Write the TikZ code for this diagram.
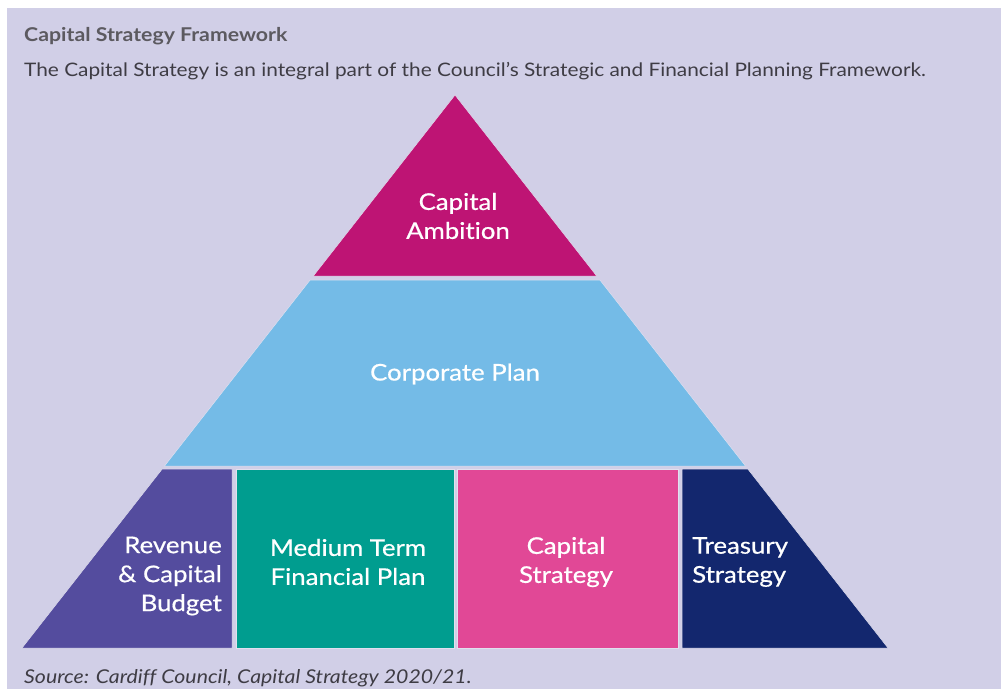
\documentclass[tikz,border=0pt]{standalone}
\usepackage{fontspec}
\setmainfont{Lato}[FakeStretch=1.12, Ligatures=NoCommon]
\newfontfamily\tierfont{Lato}[FakeStretch=1.12, FakeBold=0.6, Ligatures=NoCommon]
\definecolor{panel}{HTML}{D1CFE7}
\definecolor{ambition}{HTML}{BE1474}
\definecolor{corporate}{HTML}{74BBE7}
\definecolor{revenue}{HTML}{544C9E}
\definecolor{mtfp}{HTML}{009D8F}
\definecolor{capstrat}{HTML}{E14896}
\definecolor{treasury}{HTML}{13276E}
\definecolor{heading}{HTML}{5C5A60}
\definecolor{bodytext}{HTML}{3E3C44}
\tikzset{
  tier/.style={draw=white!35!panel, line width=0.5pt},
  label/.style={text=white, font=\tierfont\fontsize{23}{29}\selectfont, inner sep=0pt},
}
\begin{document}
\begin{tikzpicture}[x=1pt, y=-1pt]
  \useasboundingbox (0,0) rectangle (1001,689);
  \fill[white] (0,0) rectangle (1001,689);
  \fill[panel] (7,8) rectangle (1001,689);

  % heading and intro line
  \node[anchor=base west, inner sep=0pt, text=heading, font=\fontsize{19}{22}\selectfont\bfseries] (title) at (24,41) {Capital Strategy Framework};
  \node[anchor=base west, inner sep=0pt, text=bodytext, font=\fontsize{18.6}{22}\selectfont] (intro) at (24,76) {The Capital Strategy is an integral part of the Council’s Strategic and Financial Planning Framework.};

  % pyramid tiers
  \fill[ambition, tier] (455,95) -- (596.7,276) -- (313.3,276) -- cycle;
  \fill[corporate, tier] (310.1,280) -- (599.9,280) -- (745.5,466) -- (164.5,466) -- cycle;
  \fill[revenue, tier] (162.2,469) -- (232,469) -- (232,648) -- (22,648) -- cycle;
  \fill[mtfp, tier] (236,469) rectangle (454,648);
  \fill[capstrat, tier] (457,469) rectangle (678,648);
  \fill[treasury, tier] (682,469) -- (747.8,469) -- (888,648) -- (682,648) -- cycle;

  % tier labels
  \node[label, align=center] (amb) at (458,216) {Capital\\Ambition};
  \node[label, align=center] (corp) at (455,374) {Corporate Plan};
  \node[label, align=right, anchor=east] (rev) at (222,576) {Revenue\\\& Capital\\Budget};
  \node[label, align=center] (mtfp) at (348,562) {Medium Term\\Financial Plan};
  \node[label, align=center] (cap) at (566,562) {Capital\\Strategy};
  \node[label, align=left, anchor=west] (tre) at (692,562) {Treasury\\Strategy};

  % source line
  \node[anchor=base west, inner sep=0pt, text=bodytext, font=\fontsize{19}{22}\selectfont\itshape] (src) at (24,683) {Source: Cardiff Council, Capital Strategy 2020/21.};
\end{tikzpicture}
\end{document}
